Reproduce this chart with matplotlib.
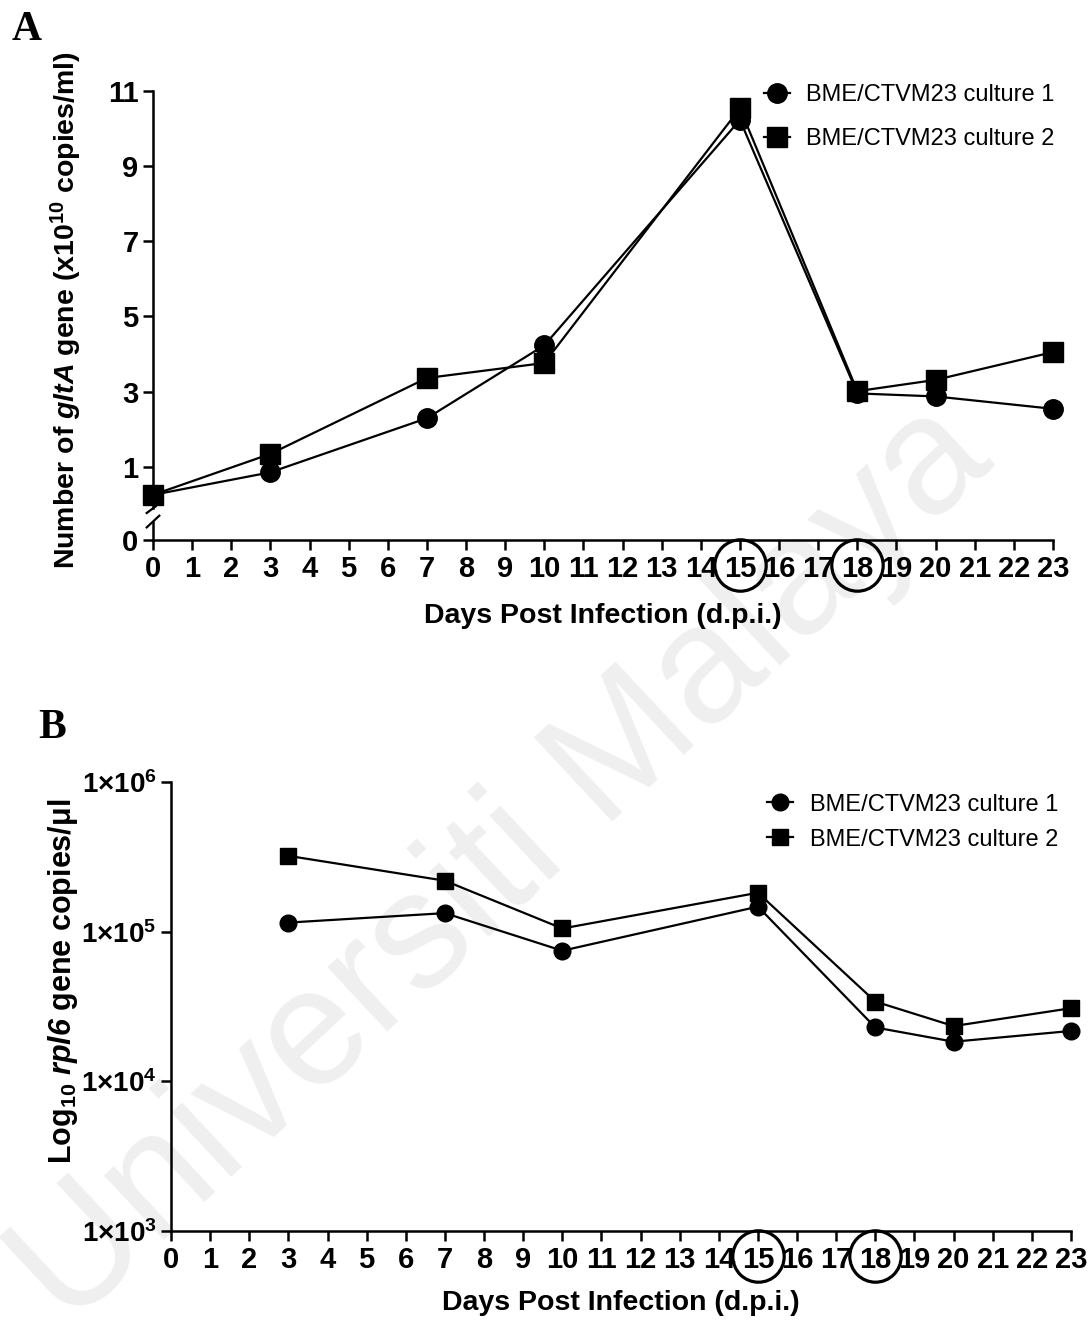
import matplotlib
matplotlib.use("Agg")
import matplotlib.pyplot as plt
import matplotlib.transforms as mtransforms

plt.rcParams['font.family'] = ['Liberation Sans', 'DejaVu Sans']
plt.rcParams['mathtext.fontset'] = 'custom'
plt.rcParams['mathtext.rm'] = 'Liberation Sans'
plt.rcParams['mathtext.it'] = 'Liberation Sans:italic'
plt.rcParams['mathtext.bf'] = 'Liberation Sans:bold'
plt.rcParams['mathtext.bfit'] = 'Liberation Sans:italic:bold'

# data
days_a = [0, 3, 7, 10, 15, 18, 20, 23]
glta_c1 = [0.25, 0.85, 2.29, 4.23, 10.23, 2.95, 2.87, 2.54]
glta_c2 = [0.25, 1.34, 3.36, 3.76, 10.54, 3.01, 3.31, 4.05]

days_b = [3, 7, 10, 15, 18, 20, 23]
rpl6_c1 = [1.15e5, 1.33e5, 7.46e4, 1.47e5, 2.29e4, 1.84e4, 2.17e4]
rpl6_c2 = [3.21e5, 2.19e5, 1.05e5, 1.82e5, 3.41e4, 2.34e4, 3.08e4]

labels = ['BME/CTVM23 culture 1', 'BME/CTVM23 culture 2']
yticks_a = [1, 3, 5, 7, 9, 11]
yticks_b = [1e3, 1e4, 1e5, 1e6]
ytick_labels_b = ['1×10$^{\\bf 3}$', '1×10$^{\\bf 4}$', '1×10$^{\\bf 5}$', '1×10$^{\\bf 6}$']
circled_days = [15, 18]

W, H = 1092, 1321
fig = plt.figure(figsize=(W / 100, H / 100), dpi=100)

def box(x0, x1, ytop, ybot):
    return [x0 / W, 1 - ybot / H, (x1 - x0) / W, (ybot - ytop) / H]

# watermark
fig.text(0.46, 0.345, 'Universiti Malaya', rotation=43, fontsize=120,
         color='#efefef', ha='center', va='center', zorder=-5)

lw_spine = 1.8
tick_kw = dict(width=lw_spine, length=7, direction='out', labelsize=21)

def circle_days(ax, dy_px):
    off = mtransforms.ScaledTranslation(0, -dy_px / 100, fig.dpi_scale_trans)
    for d in circled_days:
        ax.plot([d], [0], marker='o', ms=37, mfc='none', mec='black', mew=2.3,
                transform=ax.get_xaxis_transform() + off, clip_on=False, zorder=5)

# ---------------- panel A (broken y axis) ----------------
axA = fig.add_axes(box(153, 1053, 91, 508))
axA0 = fig.add_axes(box(153, 1053, 522, 540))
for ax in (axA, axA0):
    ax.set_facecolor('none')
    ax.set_xlim(0, 23)
    ax.spines[['top', 'right']].set_visible(False)
    ax.spines[['left', 'bottom']].set_linewidth(lw_spine)

axA.spines['bottom'].set_visible(False)
axA.set_ylim(-0.1, 11)
axA.set_yticks(yticks_a)
axA.tick_params(axis='y', **tick_kw)
axA.tick_params(axis='x', bottom=False, labelbottom=False)
for lab in axA.get_yticklabels():
    lab.set_fontweight('bold')

axA0.set_ylim(0, 0.5)
axA0.set_yticks([0])
axA0.set_xticks(range(0, 24))
axA0.tick_params(axis='both', **tick_kw)
axA0.tick_params(axis='x', pad=4)
for lab in axA0.get_yticklabels() + axA0.get_xticklabels():
    lab.set_fontweight('bold')

axA.plot(days_a, glta_c1, color='black', lw=1.6, marker='o', ms=14, clip_on=False,
         label=labels[0], zorder=4)
axA.plot(days_a, glta_c2, color='black', lw=1.6, marker='s', ms=14.5, clip_on=False,
         label=labels[1], zorder=4)

# break marks on the y axis
axA.plot([-0.007, 0.003], [-0.012, 0.004], color='black', lw=1.6,
         transform=axA.transAxes, clip_on=False)
axA0.plot([-0.007, 0.007], [0.7, 1.35], color='black', lw=1.6,
          transform=axA0.transAxes, clip_on=False)

axA.legend(loc='upper left', bbox_to_anchor=(0.668, 1.04), frameon=False, fontsize=17,
           handlelength=1.1, handletextpad=0.7, labelspacing=0.95, borderaxespad=0)
axA0.set_xlabel('Days Post Infection (d.p.i.)', fontsize=20.5, fontweight='bold', labelpad=14)
axA.set_ylabel('Number of $\\mathbfit{gltA}$ gene (x10$^{\\bf 10}$ copies/ml)',
               fontsize=20.5, fontweight='bold')
axA.yaxis.set_label_coords(-0.077, 0.475)
circle_days(axA0, 25)
fig.text(12 / W, 1 - 40 / H, 'A', family='Liberation Serif', fontweight='bold', fontsize=30)

# ---------------- panel B ----------------
axB = fig.add_axes(box(171, 1071, 782, 1231))
axB.set_facecolor('none')
axB.set_yscale('log')
axB.set_xlim(0, 23)
axB.set_ylim(1e3, 1e6)
axB.spines[['top', 'right']].set_visible(False)
axB.spines[['left', 'bottom']].set_linewidth(lw_spine)
axB.set_xticks(range(0, 24))
axB.set_yticks(yticks_b)
axB.set_yticklabels(ytick_labels_b)
axB.yaxis.set_minor_locator(matplotlib.ticker.NullLocator())
axB.tick_params(axis='both', **tick_kw)
axB.tick_params(axis='y', labelsize=20)
for lab in axB.get_yticklabels() + axB.get_xticklabels():
    lab.set_fontweight('bold')

axB.plot(days_b, rpl6_c1, color='black', lw=1.6, marker='o', ms=12, clip_on=False,
         label=labels[0], zorder=4)
axB.plot(days_b, rpl6_c2, color='black', lw=1.6, marker='s', ms=11.5, clip_on=False,
         label=labels[1], zorder=4)
axB.legend(loc='upper left', bbox_to_anchor=(0.652, 0.995), frameon=False, fontsize=17,
           handlelength=1.1, handletextpad=0.7, labelspacing=0.55, borderaxespad=0)
axB.set_xlabel('Days Post Infection (d.p.i.)', fontsize=20.5, fontweight='bold', labelpad=12)
axB.set_ylabel('Log$_{\\bf 10}$ $\\mathbfit{rpl6}$ gene copies/μl',
               fontsize=22, fontweight='bold')
axB.yaxis.set_label_coords(-0.101, 0.557)
circle_days(axB, 25)
fig.text(38 / W, 1 - 738 / H, 'B', family='Liberation Serif', fontweight='bold', fontsize=30)

fig.savefig('out.png', dpi=100)
